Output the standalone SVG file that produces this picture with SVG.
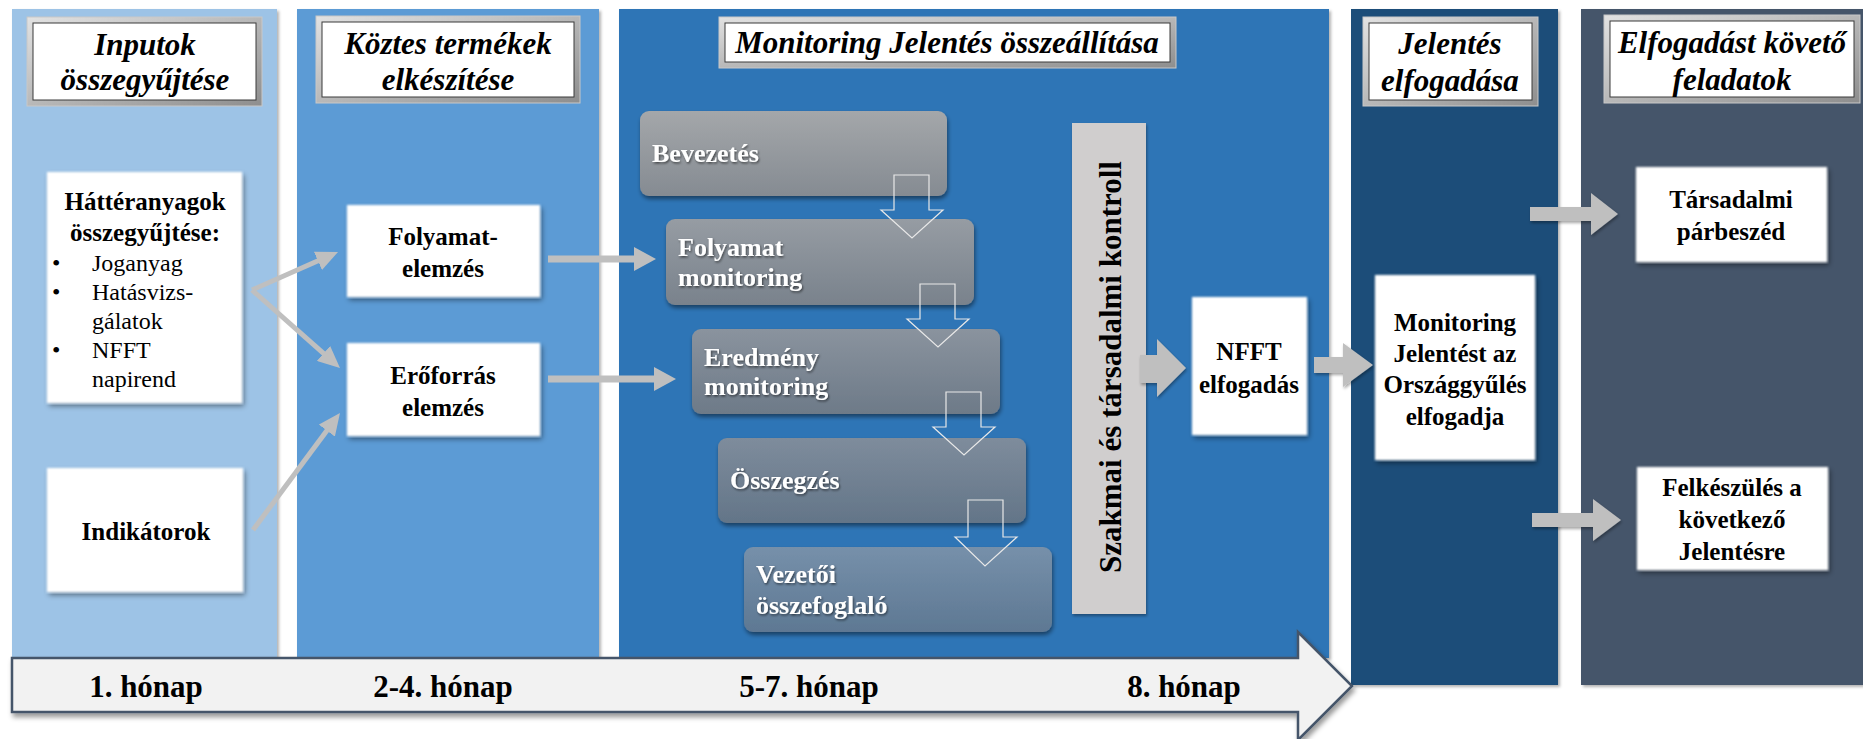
<svg xmlns="http://www.w3.org/2000/svg" width="1863" height="739" viewBox="0 0 1863 739">
<defs>
<style>
.hdr{font-family:"Liberation Serif","Times New Roman",serif;font-weight:bold;font-style:italic;font-size:31px;fill:#000;text-anchor:middle}
.wb{font-family:"Liberation Serif","Times New Roman",serif;font-weight:bold;font-size:25px;fill:#000;text-anchor:middle}
.wr{font-family:"Liberation Serif","Times New Roman",serif;font-size:24px;fill:#000}
.gb{font-family:"Liberation Serif","Times New Roman",serif;font-weight:bold;font-size:26px;fill:#fff;filter:url(#tsh)}
.tl{font-family:"Liberation Serif","Times New Roman",serif;font-weight:bold;font-size:31px;fill:#000;text-anchor:middle}
.vt{font-family:"Liberation Serif","Times New Roman",serif;font-weight:bold;font-size:31px;fill:#000;text-anchor:middle}
.col{filter:url(#csh)}
.wbox{fill:#fff;filter:url(#soft)}
.gbox{filter:url(#gsh)}
.hollow{fill:none;stroke:#E8E8E8;stroke-width:1.2}
.blk{fill:#BFBFBF;filter:url(#bsh)}
.ln{stroke:#BFBFBF;stroke-width:5;fill:none}
.lnh{stroke:#BFBFBF;stroke-width:7;fill:none}
.frame{fill:url(#bevel);stroke:#C8C8C8;stroke-width:1}
.inner{fill:#fff;stroke:#3A3A3A;stroke-width:1}
</style>
<linearGradient id="bevel" x1="0" y1="0" x2="1" y2="1">
<stop offset="0" stop-color="#E2E2E2"/><stop offset="1" stop-color="#8E8E8E"/>
</linearGradient>
<linearGradient id="g1" x1="0" y1="0" x2="0" y2="1"><stop offset="0" stop-color="#A4A7AA"/><stop offset="1" stop-color="#858B92"/></linearGradient>
<linearGradient id="g2" x1="0" y1="0" x2="0" y2="1"><stop offset="0" stop-color="#969CA3"/><stop offset="1" stop-color="#79828C"/></linearGradient>
<linearGradient id="g3" x1="0" y1="0" x2="0" y2="1"><stop offset="0" stop-color="#8A939E"/><stop offset="1" stop-color="#6D7A88"/></linearGradient>
<linearGradient id="g4" x1="0" y1="0" x2="0" y2="1"><stop offset="0" stop-color="#7E8C9C"/><stop offset="1" stop-color="#637588"/></linearGradient>
<linearGradient id="g5" x1="0" y1="0" x2="0" y2="1"><stop offset="0" stop-color="#7690AA"/><stop offset="1" stop-color="#5E7893"/></linearGradient>
<filter id="soft" x="-10%" y="-10%" width="125%" height="125%"><feGaussianBlur in="SourceGraphic" stdDeviation="1.2" result="b"/><feDropShadow dx="2" dy="3" stdDeviation="2.5" flood-color="#000" flood-opacity="0.45"/></filter>
<filter id="gsh" x="-10%" y="-10%" width="125%" height="130%"><feDropShadow dx="1" dy="3" stdDeviation="2" flood-color="#000" flood-opacity="0.45"/></filter>
<filter id="bsh" x="-20%" y="-20%" width="150%" height="160%"><feDropShadow dx="1" dy="2" stdDeviation="1.5" flood-color="#000" flood-opacity="0.35"/></filter>
<filter id="csh" x="-5%" y="-5%" width="112%" height="110%"><feDropShadow dx="2" dy="2" stdDeviation="1.5" flood-color="#000" flood-opacity="0.3"/></filter>
<filter id="tsh" x="-5%" y="-20%" width="115%" height="150%"><feDropShadow dx="1" dy="1.5" stdDeviation="0.8" flood-color="#000" flood-opacity="0.55"/></filter>
<filter id="barsh" x="-2%" y="-20%" width="104%" height="160%"><feDropShadow dx="2" dy="4" stdDeviation="2.5" flood-color="#000" flood-opacity="0.4"/></filter>
<marker id="ah" markerUnits="userSpaceOnUse" markerWidth="22" markerHeight="20" refX="12" refY="10" orient="auto"><path d="M0,0 L22,10 L0,20 Z" fill="#BFBFBF"/></marker>
<marker id="ah2" markerUnits="userSpaceOnUse" markerWidth="22" markerHeight="24" refX="2" refY="12" orient="auto"><path d="M0,0 L22,12 L0,24 Z" fill="#BFBFBF"/></marker>
</defs>

<rect width="1863" height="739" fill="#fff"/>

<g id="columns">
<rect class="col" x="12" y="9" width="265" height="649" fill="#9DC3E6"/>
<rect class="col" x="297" y="9" width="302" height="649" fill="#5B9BD5"/>
<rect class="col" x="619" y="9" width="710" height="649" fill="#2E75B6"/>
<rect class="col" x="1351" y="9" width="207" height="676" fill="#1F4E79"/>
<rect class="col" x="1581" y="9" width="282" height="676" fill="#44546A"/>
</g>

<g id="timeline">
<polygon points="12,658 1298,658 1298,632 1352,686 1298,740 1298,712 12,712" fill="#F2F2F2" stroke="#44546A" stroke-width="2.5" filter="url(#barsh)"/>
<text class="tl" x="146" y="697">1. hónap</text>
<text class="tl" x="443" y="697">2-4. hónap</text>
<text class="tl" x="809" y="697">5-7. hónap</text>
<text class="tl" x="1184" y="697">8. hónap</text>
</g>

<g id="header-inputok">
<rect class="frame" x="27" y="17" width="235" height="89"/>
<rect class="inner" x="33" y="23" width="223" height="77"/>
<text class="hdr" x="145" y="55">Inputok</text>
<text class="hdr" x="145" y="90">összegyűjtése</text>
</g>
<g id="header-koztes">
<rect class="frame" x="316" y="16" width="264" height="87"/>
<rect class="inner" x="322" y="22" width="252" height="75"/>
<text class="hdr" x="448" y="54">Köztes termékek</text>
<text class="hdr" x="448" y="90">elkészítése</text>
</g>
<g id="header-monitoring">
<rect class="frame" x="719" y="17" width="457" height="51"/>
<rect class="inner" x="725" y="23" width="445" height="39"/>
<text class="hdr" x="947" y="53">Monitoring Jelentés összeállítása</text>
</g>
<g id="header-jelentes">
<rect class="frame" x="1363" y="17" width="175" height="89"/>
<rect class="inner" x="1369" y="23" width="163" height="77"/>
<text class="hdr" x="1450" y="54">Jelentés</text>
<text class="hdr" x="1450" y="91">elfogadása</text>
</g>
<g id="header-elfogadast">
<rect class="frame" x="1604" y="15" width="256" height="88"/>
<rect class="inner" x="1610" y="21" width="244" height="76"/>
<text class="hdr" x="1732" y="53">Elfogadást követő</text>
<text class="hdr" x="1732" y="90">feladatok</text>
</g>

<g id="node-hatteranyagok">
<rect class="wbox" x="47" y="172" width="195" height="231"/>
<text class="wb" x="145" y="210">Háttéranyagok</text>
<text class="wb" x="145" y="241">összegyűjtése:</text>
<text class="wr" x="52" y="271">•</text><text class="wr" x="92" y="271">Joganyag</text>
<text class="wr" x="52" y="300">•</text><text class="wr" x="92" y="300">Hatásvizs-</text>
<text class="wr" x="92" y="329">gálatok</text>
<text class="wr" x="52" y="358">•</text><text class="wr" x="92" y="358">NFFT</text>
<text class="wr" x="92" y="387">napirend</text>
</g>
<g id="node-indikatorok">
<rect class="wbox" x="47" y="468" width="196" height="124"/>
<text class="wb" x="146" y="540">Indikátorok</text>
</g>
<g id="node-folyamatelemzes">
<rect class="wbox" x="347" y="205" width="193" height="92"/>
<text class="wb" x="443" y="245">Folyamat-</text>
<text class="wb" x="443" y="277">elemzés</text>
</g>
<g id="node-eroforras">
<rect class="wbox" x="347" y="343" width="193" height="93"/>
<text class="wb" x="443" y="384">Erőforrás</text>
<text class="wb" x="443" y="416">elemzés</text>
</g>

<g id="node-bevezetes">
<rect class="gbox" x="640" y="111" width="307" height="85" rx="9" fill="url(#g1)"/>
<text class="gb" x="652" y="162">Bevezetés</text>
</g>
<g id="node-folyamatmonitoring">
<rect class="gbox" x="666" y="219" width="308" height="86" rx="9" fill="url(#g2)"/>
<text class="gb" x="678" y="256">Folyamat</text>
<text class="gb" x="678" y="286">monitoring</text>
</g>
<g id="node-eredmenymonitoring">
<rect class="gbox" x="692" y="329" width="308" height="85" rx="9" fill="url(#g3)"/>
<text class="gb" x="704" y="366">Eredmény</text>
<text class="gb" x="704" y="395">monitoring</text>
</g>
<g id="node-osszegzes">
<rect class="gbox" x="718" y="438" width="308" height="85" rx="9" fill="url(#g4)"/>
<text class="gb" x="730" y="489">Összegzés</text>
</g>
<g id="node-vezetoi">
<rect class="gbox" x="744" y="547" width="308" height="85" rx="9" fill="url(#g5)"/>
<text class="gb" x="756" y="583">Vezetői</text>
<text class="gb" x="756" y="614">összefoglaló</text>
</g>

<g id="node-kontroll">
<rect x="1072" y="123" width="74" height="491" fill="#D0CECE" filter="url(#bsh)"/>
<text class="vt" transform="translate(1121,367) rotate(-90)">Szakmai és társadalmi kontroll</text>
</g>
<g id="node-nfft">
<rect class="wbox" x="1192" y="297" width="115" height="138"/>
<text class="wb" x="1249" y="360">NFFT</text>
<text class="wb" x="1249" y="393">elfogadás</text>
</g>
<g id="node-orszaggyules">
<rect class="wbox" x="1375" y="275" width="160" height="185"/>
<text class="wb" x="1455" y="331">Monitoring</text>
<text class="wb" x="1455" y="362">Jelentést az</text>
<text class="wb" x="1455" y="393">Országgyűlés</text>
<text class="wb" x="1455" y="425">elfogadja</text>
</g>
<g id="node-tarsadalmi">
<rect class="wbox" x="1636" y="167" width="191" height="95"/>
<text class="wb" x="1731" y="208">Társadalmi</text>
<text class="wb" x="1731" y="240">párbeszéd</text>
</g>
<g id="node-felkeszules">
<rect class="wbox" x="1637" y="467" width="191" height="103"/>
<text class="wb" x="1732" y="496">Felkészülés  a</text>
<text class="wb" x="1732" y="528">következő</text>
<text class="wb" x="1732" y="560">Jelentésre</text>
</g>

<g id="connectors">
<path class="ln" d="M252,290 L328.9,256" marker-end="url(#ah)"/>
<path class="ln" d="M252,290 L332.5,361.4" marker-end="url(#ah)"/>
<path class="ln" d="M253,530 L334,421" marker-end="url(#ah)"/>
<path class="lnh" d="M548,259 L636,259" marker-end="url(#ah2)"/>
<path class="lnh" d="M548,379 L656,379" marker-end="url(#ah2)"/>
<path class="hollow" d="M894,175 H929 V210 H943 L912,238 L881,210 H894 Z"/>
<path class="hollow" d="M920,284 H955 V319 H969 L938,347 L907,319 H920 Z"/>
<path class="hollow" d="M946,392 H981 V427 H995 L964,455 L933,427 H946 Z"/>
<path class="hollow" d="M968,500 H1003 V537 H1017 L985,566 L955,537 H968 Z"/>
<polygon class="blk" points="1140,355 1157,355 1157,339 1186,368 1157,397 1157,383 1140,383"/>
<polygon class="blk" points="1314,357 1343,357 1343,343 1373,365 1343,387 1343,373 1314,373"/>
<polygon class="blk" points="1530,207 1591,207 1591,193 1618,214 1591,235 1591,221 1530,221"/>
<polygon class="blk" points="1532,513 1593,513 1593,499 1621,520 1593,541 1593,527 1532,527"/>
</g>
</svg>
